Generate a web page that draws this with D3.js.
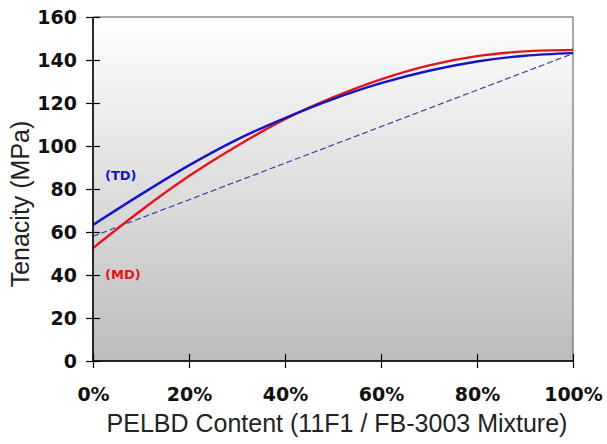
<!DOCTYPE html>
<html lang="en">

<head>
    <meta charset="UTF-8">
    <title>Tenacity</title>
    <style>
        body { margin: 0; background: #fff; }
    </style>
</head>

<body>
    <svg width="607" height="444"></svg>
    <script src="https://d3js.org/d3.v7.min.js"></script>
    <script>
        // PELBD content (%)
        var content = [0, 10, 20, 30, 40, 50, 60, 70, 80, 90, 100]
        // TD tenacity (MPa)
        var tdValues = [63.3, 77.5, 91, 103, 113, 121.8, 129.2, 135, 139.3, 142, 143.2]
        // MD tenacity (MPa)
        var mdValues = [52.5, 70, 86, 100, 112.5, 122.6, 131, 137.5, 141.8, 144, 144.7]
        // straight mixing rule line
        var ruleContent = [0, 100]
        var ruleValues = [58, 143]

        var xTicks = [0, 20, 40, 60, 80, 100]
        var yTicks = [0, 20, 40, 60, 80, 100, 120, 140, 160]

        var svg = d3.select('svg')
        var position = { left: 93, top: 17, right: 34, bottom: 83 }
        var width = +svg.attr("width")
        var height = +svg.attr("height")
        var innerWidth = width - position.left - position.right
        var innerHeight = height - position.top - position.bottom

        var x = d3.scaleLinear().domain([0, 100]).range([0, innerWidth])
        var y = d3.scaleLinear().domain([0, 160]).range([innerHeight, 0])

        // background gradient
        var grad = svg.append("defs").append("linearGradient")
            .attr("id", "bg").attr("x1", 0).attr("y1", 0).attr("x2", 0).attr("y2", 1)
        grad.append("stop").attr("offset", "0%").attr("stop-color", "#ffffff")
        grad.append("stop").attr("offset", "100%").attr("stop-color", "#bcbcbc")

        var g = svg.append("g").attr("transform", `translate(${position.left}, ${position.top})`)

        g.append("rect").attr("width", innerWidth).attr("height", innerHeight)
            .attr("fill", "url(#bg)").attr("stroke", "#555").attr("stroke-width", 1)

        var line = d3.line().x(function (d) { return x(d[0]) }).y(function (d) { return y(d[1]) })

        // mixing rule dashed line
        g.append("path").datum(d3.zip(ruleContent, ruleValues))
            .attr("d", line).attr("fill", "none")
            .attr("stroke", "#3b45a0").attr("stroke-width", 1.2).attr("stroke-dasharray", "6,3")

        var curve = d3.line().curve(d3.curveCatmullRom)
            .x(function (d) { return x(d[0]) }).y(function (d) { return y(d[1]) })

        g.append("path").datum(d3.zip(content, mdValues))
            .attr("d", curve).attr("fill", "none")
            .attr("stroke", "#e4141a").attr("stroke-width", 2.4)

        g.append("path").datum(d3.zip(content, tdValues))
            .attr("d", curve).attr("fill", "none")
            .attr("stroke", "#1414c4").attr("stroke-width", 2.4)

        // axes
        var xAxis = g.append("g").attr("transform", `translate(0, ${innerHeight})`)
            .call(d3.axisBottom(x).tickValues(xTicks).tickSize(7).tickPadding(20)
                .tickFormat(function (d) { return d + "%" }))
        var yAxis = g.append("g")
            .call(d3.axisLeft(y).tickValues(yTicks).tickSize(7).tickPadding(9))

        xAxis.selectAll(".tick line").attr("y1", -7)
        yAxis.selectAll(".tick line").attr("x1", 7)
        g.selectAll(".domain").attr("stroke", "#000").attr("stroke-width", 1.5)
        g.selectAll(".tick line").attr("stroke", "#000").attr("stroke-width", 1.2)
        g.selectAll(".tick text").attr("font-family", "DejaVu Sans").attr("font-weight", "bold")
            .attr("font-size", 19).attr("fill", "#111")
        yAxis.selectAll(".domain").attr("d", `M0,${innerHeight}V0`)
        xAxis.selectAll(".domain").attr("d", `M0,0H${innerWidth}`)

        // series labels
        g.append("text").attr("x", 12).attr("y", 163).text("(TD)")
            .attr("font-family", "DejaVu Sans").attr("font-weight", "bold").attr("font-size", 13).attr("fill", "#1414c4")
        g.append("text").attr("x", 12).attr("y", 262).text("(MD)")
            .attr("font-family", "DejaVu Sans").attr("font-weight", "bold").attr("font-size", 13).attr("fill", "#e4141a")

        // axis titles
        svg.append("text").attr("x", 337).attr("y", 432).attr("text-anchor", "middle")
            .attr("font-family", "Liberation Sans").attr("font-size", 25).attr("fill", "#222")
            .text("PELBD Content (11F1 / FB-3003 Mixture)")
        svg.append("text").attr("transform", "translate(29, 204) rotate(-90)").attr("text-anchor", "middle")
            .attr("font-family", "Liberation Sans").attr("font-size", 25).attr("fill", "#222")
            .text("Tenacity (MPa)")
    </script>
</body>

</html>
